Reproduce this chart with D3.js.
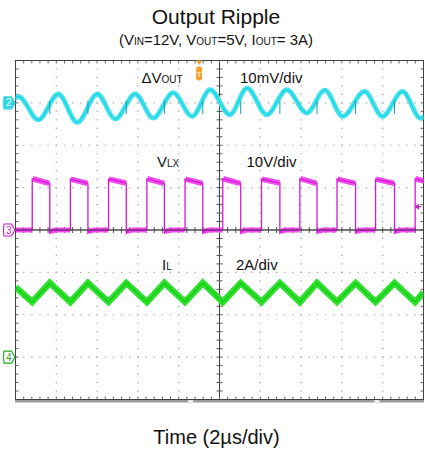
<!DOCTYPE html>
<html><head><meta charset="utf-8">
<script src="https://cdn.jsdelivr.net/npm/d3@7"></script>
<style>body{margin:0;background:#fff}</style>
</head><body><svg id="c" width="425" height="452"></svg>
<script>
// ---------------- DATA ----------------
const timeDomainUs = [0, 20];          // 10 div x 2 µs/div
const divisionsX = 10, divisionsY = 8;
const minorPerDiv = 5;

// Channel 2 : ΔVout ripple (mV), 10 mV/div, zero 1 div below top
const voutTimes = [0, 0.15, 1.12, 2.10, 3.03, 4.01, 4.89, 5.87, 6.75, 7.73, 8.66, 9.54, 10.51, 11.35, 12.32, 13.30, 14.28, 15.16, 16.04, 17.11, 17.99, 18.97, 19.85, 20];
const voutMv    = [1.1, 1.5, -4.0, 2.1, -4.6, 2.1, -3.8, 2.1, -3.6, 2.4, -3.2, 3.1, -2.8, 3.5, -2.8, 3.1, -2.4, 3.0, -3.2, 2.7, -3.2, 2.7, -3.6, -3.4];
const voutSpikeTimes = [1.68, 3.55, 5.43, 7.30, 9.18, 11.04, 12.96, 14.78, 16.67, 18.58];

// Channel 3 : VLX (V), 10 V/div, zero at centre line
const lxRise = [0.82, 2.69, 4.56, 6.44, 8.31, 10.16, 12.06, 13.94, 15.76, 17.65, 19.59];
const lxFall = [1.68, 3.55, 5.43, 7.30, 9.18, 11.04, 12.96, 14.78, 16.67, 18.58, 20.45];
const lxHighStartV = [12.1, 12.0, 12.0, 12.1, 12.0, 12.1, 12.0, 12.1, 12.0, 12.0, 12.1];
const lxHighEndV   = [11.0, 11.0, 11.1, 11.0, 11.0, 11.0, 11.1, 11.0, 11.0, 11.0, 11.0];
const lxLowV = 0, lxDipV = -0.7;

// Channel 4 : IL (A), 2 A/div, zero 1 div above bottom
const ilTimes = [0, 0.82, 1.68, 2.69, 3.55, 4.56, 5.43, 6.44, 7.30, 8.31, 9.18, 10.16, 11.04, 12.06, 12.96, 13.94, 14.78, 15.76, 16.67, 17.65, 18.58, 19.59, 20];
const ilAmps  = [3.3, 2.6, 3.5, 2.6, 3.5, 2.6, 3.5, 2.6, 3.5, 2.6, 3.5, 2.6, 3.5, 2.6, 3.5, 2.6, 3.5, 2.6, 3.5, 2.6, 3.5, 2.6, 3.05];

const chLabels = [
  {main: "ΔV", sub: "OUT", scale: "10mV/div"},
  {main: "V",  sub: "LX",  scale: "10V/div"},
  {main: "I",  sub: "L",   scale: "2A/div"}
];
const titleText = "Output Ripple";
const xAxisTitle = "Time (2µs/div)";

// ---------------- LAYOUT ----------------
const X0 = 15.5, X1 = 423.5, Y0 = 60.5, Y1 = 399.5;
const FONT = "'Liberation Sans', Arial, Helvetica, sans-serif";
const svg = d3.select("#c");

const x = d3.scaleLinear().domain(timeDomainUs).range([X0, X1]);
const gy = d3.scaleLinear().domain([0, divisionsY]).range([Y0, Y1]);
const gx = d3.scaleLinear().domain([0, divisionsX]).range([X0, X1]);
const yCh2 = d3.scaleLinear().domain([-70, 10]).range([Y1, Y0]);
const yCh3 = d3.scaleLinear().domain([-40, 40]).range([Y1, Y0]);
const yCh4 = d3.scaleLinear().domain([-2, 14]).range([Y1, Y0]);

// titles
svg.append("text").attr("x", 216).attr("y", 23.5).attr("text-anchor", "middle")
  .attr("font-family", FONT).attr("font-size", 21).attr("fill", "#111").text(titleText);
const sub = svg.append("text").attr("x", 216).attr("y", 44.5).attr("text-anchor", "middle")
  .attr("font-family", FONT).attr("font-size", 15).attr("fill", "#111");
[["(V"], ["IN", 1], ["=12V, V"], ["OUT", 1], ["=5V, I"], ["OUT", 1], ["= 3A)"]].forEach(p => {
  sub.append("tspan").attr("font-size", p[1] ? 10 : 15).text(p[0]);
});
svg.append("text").attr("x", 216.5).attr("y", 444).attr("text-anchor", "middle")
  .attr("font-family", FONT).attr("font-size", 20).attr("fill", "#111").text(xAxisTitle);

// graticule
const grid = svg.append("g");
const minorX = (X1 - X0) / divisionsX / minorPerDiv;
const minorY = (Y1 - Y0) / divisionsY / minorPerDiv;
d3.range(1, divisionsX).filter(i => i !== divisionsX / 2).forEach(i => {
  grid.append("line").attr("x1", gx(i)).attr("x2", gx(i)).attr("y1", Y0).attr("y2", Y1)
    .attr("stroke", "#a0a0a0").attr("stroke-width", 1.2)
    .attr("stroke-dasharray", `1.2 ${minorY - 1.2}`).attr("stroke-dashoffset", 0.6);
});
d3.range(1, divisionsY).filter(j => j !== divisionsY / 2).forEach(j => {
  grid.append("line").attr("y1", gy(j)).attr("y2", gy(j)).attr("x1", X0).attr("x2", X1)
    .attr("stroke", "#a0a0a0").attr("stroke-width", 1.2)
    .attr("stroke-dasharray", `1.2 ${minorX - 1.2}`).attr("stroke-dashoffset", 0.6);
});
// centre lines with ticks
const cx = gx(divisionsX / 2), cy = gy(divisionsY / 2);
grid.append("line").attr("x1", cx).attr("x2", cx).attr("y1", Y0).attr("y2", Y1).attr("stroke", "#444");
grid.append("line").attr("x1", X0).attr("x2", X1).attr("y1", cy).attr("y2", cy).attr("stroke", "#444");
const minorXs = d3.range(1, divisionsX * minorPerDiv).map(k => X0 + k * minorX);
const minorYs = d3.range(1, divisionsY * minorPerDiv).map(k => Y0 + k * minorY);
minorXs.forEach(px => {
  grid.append("line").attr("x1", px).attr("x2", px).attr("y1", cy - 3).attr("y2", cy + 3).attr("stroke", "#555");
  grid.append("line").attr("x1", px).attr("x2", px).attr("y1", Y0).attr("y2", Y0 + 3).attr("stroke", "#666");
  grid.append("line").attr("x1", px).attr("x2", px).attr("y1", Y1 - 3).attr("y2", Y1).attr("stroke", "#666");
});
minorYs.forEach(py => {
  grid.append("line").attr("y1", py).attr("y2", py).attr("x1", cx - 3).attr("x2", cx + 3).attr("stroke", "#555");
  grid.append("line").attr("y1", py).attr("y2", py).attr("x1", X0).attr("x2", X0 + 3).attr("stroke", "#666");
  grid.append("line").attr("y1", py).attr("y2", py).attr("x1", X1 - 3).attr("x2", X1).attr("stroke", "#666");
});
grid.append("rect").attr("x", X0).attr("y", Y0).attr("width", X1 - X0).attr("height", Y1 - Y0)
  .attr("fill", "none").attr("stroke", "#444");
// bottom status band
svg.append("rect").attr("x", X0 - 0.5).attr("y", Y1 + 0.5).attr("width", X1 - X0 + 1).attr("height", 2.5).attr("fill", "#9c9c9c");
[188, 374.5].forEach(px => svg.append("rect").attr("x", px).attr("y", Y1 + 0.8).attr("width", 5).attr("height", 2).attr("fill", "#fff"));

// clip
svg.append("clipPath").attr("id", "plotclip").append("rect")
  .attr("x", X0).attr("y", Y0).attr("width", X1 - X0).attr("height", Y1 - Y0);
const plot = svg.append("g").attr("clip-path", "url(#plotclip)");

// channel 2 : cyan ripple
const voutPts = voutTimes.map((t, i) => [t, voutMv[i]]);
const lineCh2 = d3.line().x(d => x(d[0])).y(d => yCh2(d[1])).curve(d3.curveMonotoneX);
plot.append("path").attr("d", lineCh2(voutPts)).attr("fill", "none")
  .attr("stroke", "#48e4ee").attr("stroke-width", 4.8).attr("stroke-linecap", "round");
plot.append("path").attr("d", lineCh2(voutPts)).attr("fill", "none")
  .attr("stroke", "#22d4e2").attr("stroke-width", 1.4);
voutSpikeTimes.forEach(t => {
  plot.append("line").attr("x1", x(t)).attr("x2", x(t)).attr("y1", yCh2(0.5)).attr("y2", yCh2(-2.6))
    .attr("stroke", "#1a9aa8").attr("stroke-width", 1);
});

// channel 3 : magenta switching node
const lxLine = d3.line().x(d => x(d[0])).y(d => yCh3(d[1]));
const lxPts = [[timeDomainUs[0], lxLowV]];
lxRise.forEach((r, i) => {
  lxPts.push([r, lxLowV], [r, lxHighStartV[i]], [lxFall[i], lxHighEndV[i]], [lxFall[i], lxDipV], [lxFall[i] + 0.12, lxLowV]);
});
// noise bands on flat parts
lxRise.forEach((r, i) => {
  plot.append("path").attr("d", lxLine([[r + 0.02, lxHighStartV[i]], [lxFall[i] - 0.02, lxHighEndV[i]]]))
    .attr("stroke", "#f04cf0").attr("stroke-width", 5.5).attr("fill", "none");
  const lowEnd = i + 1 < lxRise.length ? lxRise[i + 1] : timeDomainUs[1] + 1;
  plot.append("path").attr("d", lxLine([[lxFall[i] + 0.02, lxDipV * 0.5], [lxFall[i] + 0.3, lxLowV], [lowEnd - 0.02, lxLowV]]))
    .attr("stroke", "#f04cf0").attr("stroke-width", 5).attr("fill", "none");
});
plot.append("path").attr("d", lxLine([[timeDomainUs[0], lxLowV], [lxRise[0] - 0.02, lxLowV]]))
  .attr("stroke", "#f04cf0").attr("stroke-width", 5).attr("fill", "none");
plot.append("path").attr("d", lxLine(lxPts)).attr("fill", "none")
  .attr("stroke", "#d21ad2").attr("stroke-width", 1.3);
// centre line shows through the low band
plot.append("line").attr("x1", X0).attr("x2", X1).attr("y1", cy).attr("y2", cy)
  .attr("stroke", "#333").attr("stroke-opacity", 0.75);

// channel 4 : green inductor current
const ilPts = ilTimes.map((t, i) => [t, ilAmps[i]]);
const lineCh4 = d3.line().x(d => x(d[0])).y(d => yCh4(d[1]));
plot.append("path").attr("d", lineCh4(ilPts)).attr("fill", "none")
  .attr("stroke", "#2fe02f").attr("stroke-width", 6.5).attr("stroke-linejoin", "miter");
plot.append("path").attr("d", lineCh4(ilPts)).attr("fill", "none")
  .attr("stroke", "#18cc18").attr("stroke-width", 1.5);

// channel labels
const labelPos = [[141.5, 82.5, 240], [157, 166.5, 246.5], [162, 269.5, 236]];
chLabels.forEach((l, i) => {
  const [lx, ly, sx] = labelPos[i];
  const t = svg.append("text").attr("x", lx).attr("y", ly).attr("font-family", FONT).attr("font-size", 15).attr("fill", "#111");
  t.append("tspan").text(l.main);
  t.append("tspan").attr("font-size", 10).text(l.sub);
  svg.append("text").attr("x", sx).attr("y", ly).attr("font-family", FONT).attr("font-size", 15).attr("fill", "#111").text(l.scale);
});

// channel ground markers
function marker(yPos, label, color, filled) {
  const g = svg.append("g");
  g.append("path").attr("d", `M4,${yPos - 6} L11.5,${yPos - 6} L15,${yPos} L11.5,${yPos + 6} L4,${yPos + 6} Q2.8,${yPos} 4,${yPos - 6} Z`)
    .attr("fill", filled ? color : "#fff").attr("stroke", color).attr("stroke-width", 1.1);
  g.append("text").attr("x", 8.8).attr("y", yPos + 3.6).attr("text-anchor", "middle")
    .attr("font-family", FONT).attr("font-size", 10).attr("fill", filled ? "#fff" : color).text(label);
}
marker(yCh2(0), "2", "#2fd6e4", true);
marker(yCh3(0), "3", "#c81ec8", false);
marker(yCh4(0), "4", "#1fae1f", false);

// trigger position marker
const tx = x(9.0);
svg.append("path").attr("d", `M${tx - 3},${Y0} L${tx + 3},${Y0} L${tx},${Y0 + 4.5} Z`).attr("fill", "#f0a028");
svg.append("rect").attr("x", tx - 3).attr("y", Y0 + 6).attr("width", 6).attr("height", 14).attr("rx", 2.5)
  .attr("fill", "#f2a22a");
svg.append("text").attr("x", tx).attr("y", Y0 + 16).attr("text-anchor", "middle").attr("font-family", FONT)
  .attr("font-size", 8).attr("font-weight", "bold").attr("fill", "#ffe3b0").text("T");
// trigger level arrow (right side)
const tly = yCh3(5.5);
svg.append("path").attr("d", `M${X1 - 9},${tly} L${X1 - 4.5},${tly - 3} L${X1 - 4.5},${tly + 3} Z`).attr("fill", "#c020c0");
svg.append("line").attr("x1", X1 - 5).attr("x2", X1 - 2).attr("y1", tly).attr("y2", tly).attr("stroke", "#c020c0");
</script></body></html>
